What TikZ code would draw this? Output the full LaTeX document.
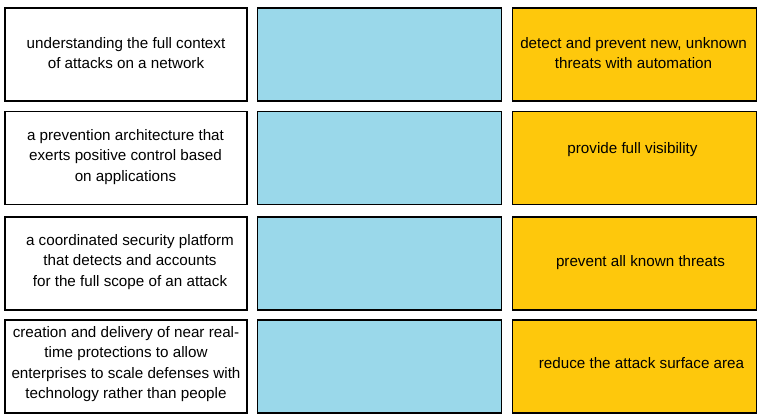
\documentclass[tikz,border=0pt]{standalone}
\usepackage{fontspec}
\setmainfont{Liberation Sans}
\definecolor{cellblue}{RGB}{154,216,234}
\definecolor{cellgold}{RGB}{254,200,12}
\begin{document}
\begin{tikzpicture}[x=1pt,y=-1pt,
  cell/.style={draw=black,line width=1.4pt,inner sep=0pt,minimum width=243pt,minimum height=93pt},
  whitecell/.style={cell,fill=white,minimum width=242pt},
  bluecell/.style={cell,fill=cellblue,minimum width=244pt},
  goldcell/.style={cell,fill=cellgold,minimum width=244pt},
  txt/.style={align=center,inner sep=0pt,font=\fontsize{15.2}{20.3}\selectfont}]
\useasboundingbox (0,0) rectangle (762,418);
% column 1
\node[whitecell] (w1) at (126,54.65) {};
\node[whitecell] (w2) at (126,157.8) {};
\node[whitecell] (w3) at (126,263.35) {};
\node[whitecell] (w4) at (126,366.65) {};
% column 2
\node[bluecell] (b1) at (379.5,54.65) {};
\node[bluecell] (b2) at (379.5,157.8) {};
\node[bluecell] (b3) at (379.5,263.35) {};
\node[bluecell] (b4) at (379.5,366.65) {};
% column 3
\node[goldcell] (g1) at (634.5,54.65) {};
\node[goldcell] (g2) at (634.5,157.8) {};
\node[goldcell] (g3) at (634.5,263.35) {};
\node[goldcell] (g4) at (634.5,366.65) {};
% texts
\node[txt] (t11) at (126,53) {understanding the full context\\of attacks on a network};
\node[txt] (t21) at (125.5,157) {a prevention architecture that\\exerts positive control based\\on applications};
\node[txt] (t31) at (130,262) {a coordinated security platform\\that detects and accounts\\for the full scope of an attack};
\node[txt] (t41) at (126,364) {creation and delivery of near real-\\time protections to allow\\enterprises to scale defenses with\\technology rather than people};
\node[txt] (t13) at (633.5,53) {detect and prevent new, unknown\\threats with automation};
\node[txt] (t23) at (632.5,150) {provide full visibility};
\node[txt] (t33) at (640.5,263) {prevent all known threats};
\node[txt] (t43) at (641.5,363) {reduce the attack surface area};
\end{tikzpicture}
\end{document}
